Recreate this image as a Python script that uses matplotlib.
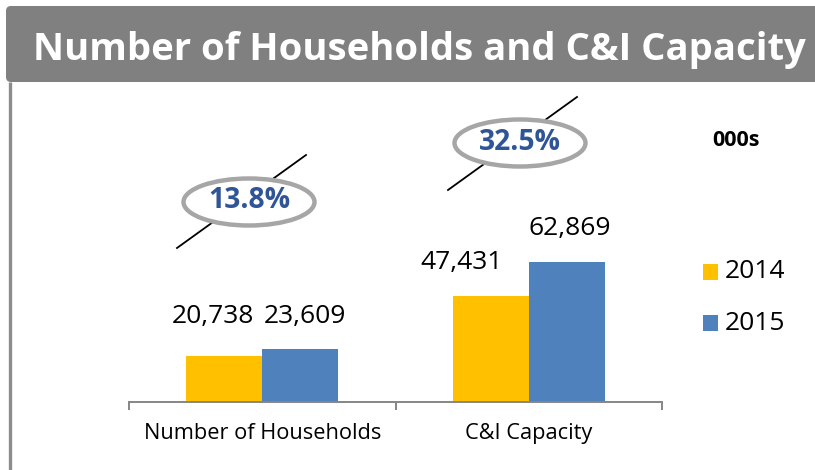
import matplotlib
matplotlib.use("Agg")
import matplotlib.pyplot as plt
from matplotlib.patches import Ellipse, FancyBboxPatch, Rectangle

plt.rcParams["font.family"] = ["Open Sans", "DejaVu Sans"]

categories = ["Number of Households", "C&I Capacity"]
years = ["2014", "2015"]
values_2014 = [20738, 47431]
values_2015 = [23609, 62869]
growth = ["13.8%", "32.5%"]
title = "Number of Households and C&I Capacity"
unit = "000s"

C14, C15 = "#FFC000", "#4F81BD"
GRAY = "#808080"
W, H = 815, 470

fig = plt.figure(figsize=(W / 100, H / 100), dpi=100)

# bar area, placed in pixel terms of the reference
ax = fig.add_axes([129 / W, (H - 402) / H, 533 / W, 156 / H])
bw = 0.285
xs = range(len(categories))
ax.bar([x - 0.142 for x in xs], values_2014, bw, color=C14, label=years[0], zorder=2)
ax.bar([x + 0.142 for x in xs], values_2015, bw, color=C15, label=years[1], zorder=2)
ax.set_xlim(-0.5, 1.5)
ax.set_ylim(0, 70000)
for s in ("top", "right", "left"):
    ax.spines[s].set_visible(False)
ax.spines["bottom"].set_color("#868686")
ax.spines["bottom"].set_linewidth(1.4)
ax.set_yticks([])
ax.set_xticks([-0.5, 0.5, 1.5])
ax.set_xticklabels([])
ax.tick_params(axis="x", which="major", length=5.5, width=1.4, color="#868686")
ax.set_xticks(list(xs), categories, minor=True)
ax.tick_params(axis="x", which="minor", length=0, pad=15, labelsize=15.7)

# overlay in pixel coords for title bar, callouts and labels
ov = fig.add_axes([0, 0, 1, 1], zorder=5)
ov.set_xlim(0, W)
ov.set_ylim(H, 0)
ov.axis("off")
ov.patch.set_alpha(0)

ov.add_patch(FancyBboxPatch((6, 6), 830, 76, boxstyle="round,pad=0,rounding_size=5",
                            fc=GRAY, ec="none"))
ov.plot([10, 10], [82, H], color="#8C8C8C", lw=2.4, solid_capstyle="butt")
ov.text(419, 50, title, color="white", fontsize=27.5, fontweight="bold",
        ha="center", va="center")
ov.text(736, 140, unit, fontsize=15.5, fontweight="bold", ha="center", va="center")

# value labels
lab_pos = [[(213, 316), (462, 263)], [(305, 316), (570, 229)]]
for vals, pos in zip([values_2014, values_2015], lab_pos):
    for v, (px, py) in zip(vals, pos):
        ov.text(px, py, f"{v:,}", fontsize=19, ha="center", va="center")

# growth callouts: slanted line behind a ringed label
callouts = [((177, 248), (306, 155), (249, 202)), ((448, 190), (577, 97), (520, 143))]
for g, (p0, p1, c) in zip(growth, callouts):
    ov.plot([p0[0], p1[0]], [p0[1], p1[1]], color="black", lw=1.3, zorder=1)
    ov.add_patch(Ellipse(c, 131, 47, fc="white", ec="#A6A6A6", lw=3.2, zorder=2))
    ov.text(c[0], c[1] - 1, g, color="#2F5597", fontsize=20.3, fontweight="bold",
            ha="center", va="center", zorder=3)

# legend
for yr, col, py in [(years[0], C14, 272), (years[1], C15, 323)]:
    ov.add_patch(Rectangle((703, py - 8), 15, 16, fc=col, ec="none"))
    ov.text(725, py, yr, fontsize=19, ha="left", va="center")

fig.savefig("out.png", dpi=100)
